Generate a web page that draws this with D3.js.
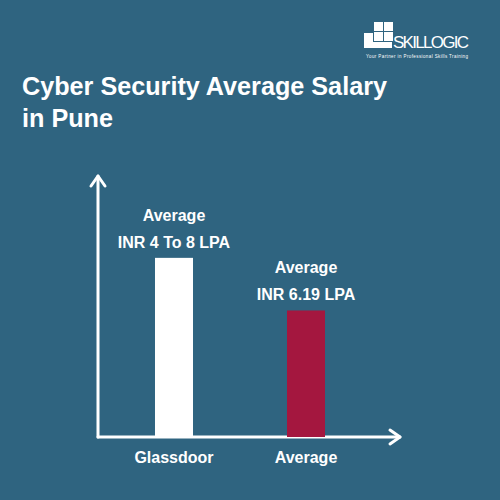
<!DOCTYPE html>
<html><head><meta charset="utf-8">
<script src="https://cdn.jsdelivr.net/npm/d3@7"></script>
<style>body{margin:0}svg{display:block}</style>
</head><body>
<svg id="chart" width="500" height="500"></svg>
<script>
// chart values
var categories = ["Glassdoor", "Average"];
var barValues = [8, 5.65];
var labelTop = ["Average", "Average"];
var labelBottom = ["INR 4 To 8 LPA", "INR 6.19 LPA"];
var barColors = ["#ffffff", "#a4173f"];

var svg = d3.select("#chart");
var font = "Liberation Sans, Arial, sans-serif";

// background
svg.append("rect").attr("width", 500).attr("height", 500).attr("fill", "#2f6480");

// title
svg.append("text").attr("x", 22).attr("y", 95).attr("fill", "#fff")
   .attr("font-family", font).attr("font-weight", "bold").attr("font-size", 25.2)
   .text("Cyber Security Average Salary");
svg.append("text").attr("x", 22).attr("y", 127).attr("fill", "#fff")
   .attr("font-family", font).attr("font-weight", "bold").attr("font-size", 25.2)
   .text("in Pune");

// logo
var logo = svg.append("g");
[[374,22,9,9],[384,22,9,9],[374,32,9,9],[364,33,9,9],[364,42,28,6],[384,32,9,9]].forEach(function(r){
  logo.append("rect").attr("x", r[0]).attr("y", r[1]).attr("width", r[2]).attr("height", r[3]).attr("fill", "#fff");
});
logo.append("text").attr("x", 393).attr("y", 48).attr("fill", "#fff")
    .attr("font-family", font).attr("font-size", 17).attr("textLength", 76).text("SKILLOGIC");
logo.append("text").attr("x", 366).attr("y", 58).attr("fill", "#fff")
    .attr("font-family", font).attr("font-size", 4.5).attr("textLength", 102).text("Your Partner in Professional Skills Training");

// scales
var x = d3.scaleBand().domain(categories).range([108, 372]).paddingInner(0.712).paddingOuter(0.356);
var y = d3.scaleLinear().domain([0, 11.7]).range([437, 175]);

// axes with arrows
var ax = svg.append("g").attr("stroke", "#fff").attr("stroke-width", 3).attr("fill", "none")
   .attr("stroke-linecap", "round").attr("stroke-linejoin", "round");
ax.append("path").attr("d", "M98,437V176");
ax.append("path").attr("d", "M91,186L98,176L105,186");
ax.append("path").attr("d", "M98,437H400");
ax.append("path").attr("d", "M390,430L400,437L390,444");

// bars
svg.selectAll(".bar").data(barValues).enter().append("rect")
   .attr("class", "bar")
   .attr("x", function(d, i){ return x(categories[i]); })
   .attr("y", function(d){ return y(d); })
   .attr("width", x.bandwidth())
   .attr("height", function(d){ return y(0) - y(d); })
   .attr("fill", function(d, i){ return barColors[i]; });

// labels above bars
categories.forEach(function(c, i){
  var cx = x(c) + x.bandwidth() / 2, top = y(barValues[i]);
  svg.append("text").attr("x", cx).attr("y", top - 37).attr("text-anchor", "middle")
     .attr("fill", "#fff").attr("font-family", font).attr("font-weight", "bold").attr("font-size", 16)
     .text(labelTop[i]);
  svg.append("text").attr("x", cx).attr("y", top - 10).attr("text-anchor", "middle")
     .attr("fill", "#fff").attr("font-family", font).attr("font-weight", "bold").attr("font-size", 16)
     .text(labelBottom[i]);
  svg.append("text").attr("x", cx).attr("y", 463).attr("text-anchor", "middle")
     .attr("fill", "#fff").attr("font-family", font).attr("font-weight", "bold").attr("font-size", 16)
     .text(c);
});
</script>
</body></html>
